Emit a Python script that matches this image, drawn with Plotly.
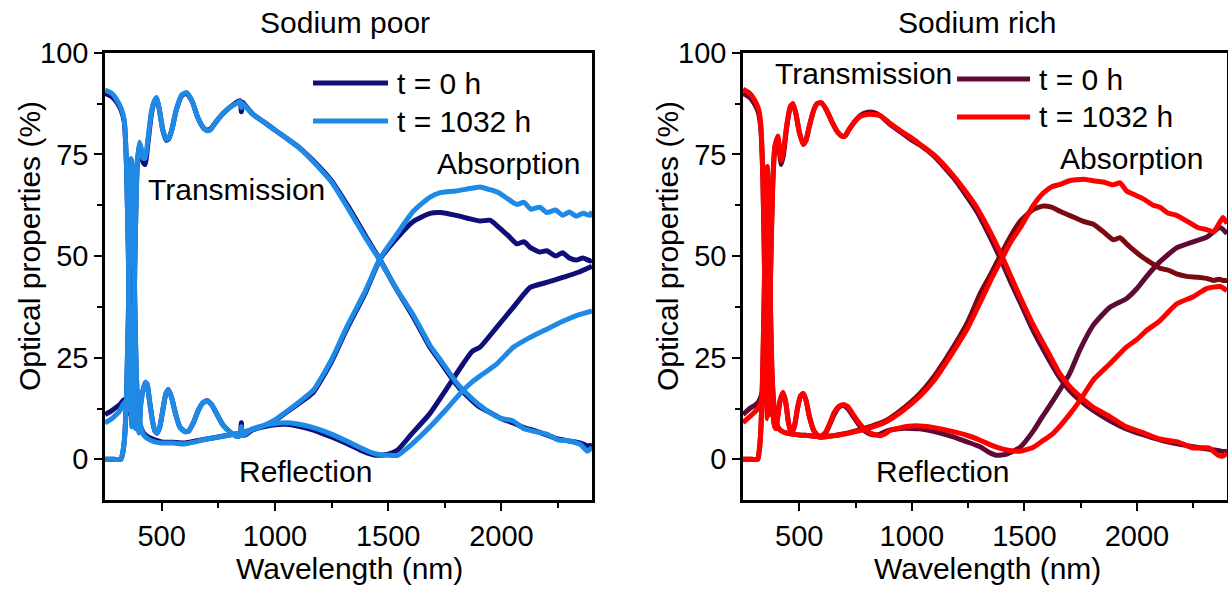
import plotly.graph_objects as go

# ---------------- data: Sodium poor ----------------
poor_T_nm = [250, 280, 300, 320, 335, 345, 355, 362, 368, 374, 382, 392, 402, 410, 418,
             427, 440, 455, 468, 478, 490, 505, 520, 530, 545, 565, 590, 611, 635, 660,
             685, 700, 715, 740, 770, 800, 830, 846, 852, 858, 870, 900, 950, 1000, 1050,
             1100, 1170, 1250, 1320, 1400, 1465, 1530, 1611, 1685, 1730, 1800, 1850, 1900, 1950, 2000,
             2050, 2100, 2150, 2200, 2250, 2300, 2350, 2380, 2400]
poor_T_0 = [90.0, 89.2, 88.0, 86.0, 83.0, 72.0, 45.0, 22.0, 10.0, 20.0, 50.0, 72.0, 77.5, 76.0, 73.0,
            72.5, 78.0, 85.0, 88.0, 88.8, 86.0, 81.0, 78.5, 78.7, 81.0, 86.0, 89.5, 90.0, 88.0, 84.0,
            81.5, 81.0, 81.2, 83.0, 85.0, 86.5, 87.8, 88.2, 85.5, 87.8, 87.0, 85.0, 83.0, 81.0, 79.0,
            77.0, 73.4, 68.5, 62.5, 55.0, 49.0, 42.5, 35.0, 27.5, 24.0, 18.5, 15.5, 13.0, 11.5, 10.0,
            9.0, 7.8, 7.0, 6.0, 5.0, 4.5, 4.0, 3.3, 3.5]
poor_T_1032 = [90.8, 90.0, 88.6, 86.5, 83.5, 72.0, 44.0, 20.0, 8.0, 19.0, 49.0, 72.0, 78.0, 76.5, 74.0,
               74.0, 79.0, 85.5, 88.2, 89.0, 86.0, 81.0, 78.7, 78.9, 81.0, 86.0, 89.7, 90.2, 88.0, 84.0,
               81.5, 80.8, 81.0, 83.0, 85.0, 86.5, 87.5, 88.0, 86.5, 87.5, 86.8, 85.0, 83.0, 81.0, 79.0,
               77.0, 73.2, 68.2, 62.0, 54.5, 48.8, 42.5, 35.5, 28.0, 24.5, 19.0, 16.0, 13.5, 11.5, 10.0,
               9.5, 7.5, 6.8, 6.2, 4.8, 4.5, 3.6, 2.0, 3.0]

poor_R_nm = [250, 280, 300, 316, 330, 345, 355, 362, 368, 374, 380, 386, 392, 400, 408,
             418, 428, 436, 445, 458, 470, 480, 492, 505, 518, 530, 545, 560, 580, 603,
             620, 640, 660, 680, 700, 720, 745, 770, 800, 825, 840, 848, 852, 856, 870,
             900, 950, 1000, 1050, 1100, 1170, 1250, 1317, 1380, 1430, 1460, 1500, 1542, 1600, 1685,
             1760, 1831, 1870, 1906, 1980, 2054, 2127, 2200, 2274, 2340, 2400]
poor_R_0 = [11.0, 12.0, 12.8, 13.5, 14.5, 15.0, 16.0, 11.0, 17.5, 13.0, 17.8, 8.0, 10.0, 7.0, 14.0,
            17.0, 18.8, 18.5, 15.0, 10.0, 7.0, 6.4, 8.0, 12.0, 16.0, 17.2, 15.0, 11.5, 8.0, 6.8,
            7.0, 9.0, 11.8, 13.8, 14.4, 13.5, 11.0, 8.5, 6.8, 5.8, 5.6, 6.5, 9.0, 6.0, 6.0,
            7.2, 8.0, 8.5, 8.6, 8.2, 7.2, 5.5, 3.9, 2.2, 1.2, 1.0, 1.3, 2.3, 6.0, 11.3,
            17.5, 23.5, 26.5, 27.6, 32.5, 37.5, 42.3, 43.5, 44.8, 46.0, 47.5]
poor_R_1032 = [9.0, 10.0, 11.0, 12.0, 13.5, 14.5, 16.5, 12.0, 18.0, 14.0, 17.0, 7.5, 9.5, 6.5, 13.5,
               17.0, 19.0, 18.5, 15.0, 10.0, 7.0, 6.5, 8.0, 12.0, 16.0, 17.2, 15.0, 11.5, 8.0, 6.8,
               7.0, 9.0, 11.8, 13.8, 14.4, 13.5, 11.0, 8.5, 6.8, 5.8, 5.6, 6.0, 8.0, 6.0, 6.2,
               7.5, 8.3, 8.8, 9.0, 8.7, 7.8, 6.2, 4.5, 2.8, 1.6, 1.2, 1.0, 1.0, 3.5, 8.0,
               12.5, 17.0, 19.0, 20.5, 23.5, 27.6, 30.0, 32.0, 34.0, 35.5, 36.5]

poor_A_nm = [250, 290, 320, 328, 336, 344, 352, 360, 366, 372, 378, 384, 390, 398, 408,
             420, 440, 470, 500, 550, 600, 650, 700, 750, 800, 850, 900, 950, 1000, 1050,
             1100, 1170, 1250, 1317, 1400, 1465, 1540, 1611, 1685, 1730, 1800, 1850, 1906, 1950, 1990,
             2030, 2068, 2100, 2130, 2170, 2200, 2240, 2270, 2300, 2330, 2360, 2392, 2400]
poor_A_0 = [0.0, 0.0, 0.0, 1.5, 5.0, 14.0, 32.0, 55.0, 72.0, 70.0, 50.0, 30.0, 18.0, 11.0, 8.0,
            6.5, 5.5, 4.8, 4.3, 4.2, 4.0, 4.5, 5.0, 5.5, 6.0, 6.5, 7.3, 8.2, 9.5, 11.5,
            13.5, 16.5, 24.0, 32.0, 41.0, 49.3, 54.5, 58.5, 60.5, 60.7, 60.0, 59.3, 58.6, 58.8, 57.0,
            55.0, 53.0, 53.5, 52.0, 51.0, 51.3, 50.0, 50.8, 49.5, 49.0, 49.5, 48.8, 49.0]
poor_A_1032 = [0.0, 0.0, 0.0, 1.5, 5.0, 14.0, 33.0, 57.0, 74.0, 72.0, 52.0, 31.0, 19.0, 11.0, 8.0,
               6.0, 5.0, 4.3, 4.0, 4.0, 3.8, 4.3, 5.0, 5.5, 6.0, 6.5, 7.3, 8.3, 9.7, 11.7,
               13.8, 17.0, 24.5, 32.5, 41.5, 49.5, 55.5, 61.0, 64.5, 65.6, 66.0, 66.5, 67.0, 66.3, 65.5,
               64.0, 62.7, 63.2, 61.5, 62.0, 60.7, 61.3, 60.0, 60.8, 59.8, 60.5, 60.0, 61.0]

# ---------------- data: Sodium rich ----------------
rich_T_nm = [250, 280, 300, 317, 328, 338, 345, 352, 358, 364, 372, 382, 392, 405, 413,
             420, 430, 445, 460, 472, 485, 500, 517, 530, 545, 565, 580, 598, 620, 645,
             670, 690, 703, 720, 745, 770, 800, 830, 860, 900, 950, 1000, 1036, 1100, 1184,
             1240, 1288, 1340, 1392, 1440, 1482, 1540, 1599, 1658, 1700, 1747, 1806, 1880, 1953, 2030,
             2101, 2180, 2250, 2320, 2360, 2382, 2400]
rich_T_0 = [90.0, 89.0, 87.5, 85.5, 82.0, 70.0, 50.0, 25.0, 12.0, 18.0, 45.0, 68.0, 77.0, 79.0, 75.0,
            72.5, 75.0, 82.0, 86.5, 87.2, 85.0, 80.5, 77.5, 78.5, 82.0, 86.0, 87.5, 87.7, 86.0, 83.0,
            80.5, 79.5, 79.5, 81.0, 83.0, 84.5, 85.3, 85.3, 84.5, 82.5, 80.5, 78.5, 77.3, 74.5, 69.3,
            65.0, 61.0, 55.5, 49.5, 43.5, 38.5, 31.5, 25.5, 20.0, 17.0, 14.5, 12.0, 9.5, 7.5, 6.0,
            4.8, 3.8, 3.1, 2.5, 2.2, 1.9, 2.0]
rich_T_1032 = [91.0, 90.0, 88.5, 86.5, 83.0, 70.0, 48.0, 22.0, 10.0, 17.0, 44.0, 67.0, 77.0, 79.5, 76.0,
               73.5, 76.0, 82.5, 86.8, 87.5, 85.0, 80.5, 77.5, 78.5, 82.0, 86.0, 87.5, 87.7, 86.0, 83.0,
               80.5, 79.5, 79.5, 81.0, 83.0, 84.3, 84.8, 84.8, 84.5, 82.8, 80.8, 79.0, 77.5, 74.8, 69.8,
               65.8, 62.0, 56.8, 51.0, 45.0, 39.8, 33.0, 27.0, 21.0, 18.0, 15.5, 12.8, 10.5, 8.0, 6.5,
               5.0, 4.3, 2.8, 2.8, 1.0, 0.8, 1.5]

rich_R_nm = [250, 280, 300, 317, 330, 342, 350, 356, 362, 368, 374, 380, 388, 396, 405,
             415, 428, 440, 452, 465, 478, 492, 505, 517, 530, 545, 565, 585, 598, 615,
             635, 655, 675, 695, 715, 740, 765, 790, 815, 844, 860, 880, 900, 950, 1000,
             1036, 1100, 1184, 1250, 1303, 1340, 1376, 1421, 1482, 1540, 1580, 1628, 1700, 1747, 1806,
             1880, 1953, 2000, 2043, 2100, 2176, 2250, 2309, 2369, 2400]
rich_R_0 = [11.0, 12.5, 13.2, 14.0, 15.5, 18.0, 20.0, 18.0, 14.0, 19.0, 12.0, 16.0, 9.0, 8.0, 11.0,
            14.5, 16.2, 14.0, 9.0, 6.4, 8.0, 12.5, 15.5, 16.2, 14.5, 10.5, 7.0, 5.6, 5.5, 6.2,
            8.5, 11.0, 12.8, 13.3, 12.5, 10.5, 8.5, 7.0, 6.2, 6.0, 6.2, 6.8, 7.2, 7.6, 7.6,
            7.5, 6.8, 5.5, 4.2, 3.1, 1.8, 1.0, 1.3, 3.0, 7.0, 10.5, 14.5, 21.0, 27.0, 33.0,
            37.4, 39.5, 42.0, 45.0, 48.5, 52.0, 53.5, 54.6, 57.0, 55.5]
rich_R_1032 = [9.0, 10.5, 11.5, 12.5, 14.0, 17.0, 19.0, 17.0, 13.0, 18.0, 11.0, 15.0, 8.5, 7.5, 10.5,
               14.5, 16.5, 14.0, 9.0, 6.4, 8.0, 12.5, 15.5, 16.2, 14.5, 10.5, 7.0, 5.8, 5.8, 6.5,
               8.8, 11.5, 13.0, 13.5, 13.0, 11.0, 9.0, 7.5, 6.5, 6.0, 5.8, 6.2, 7.0, 7.8, 8.2,
               8.2, 7.8, 6.8, 5.8, 4.7, 3.8, 3.0, 2.3, 2.0, 3.0, 4.5, 6.4, 11.0, 14.5, 19.5,
               23.5, 27.6, 29.5, 31.7, 34.0, 38.2, 40.0, 42.0, 42.5, 41.5]

rich_A_nm = [250, 290, 315, 322, 330, 338, 345, 352, 358, 364, 370, 378, 386, 395, 405,
             420, 440, 470, 500, 550, 600, 650, 700, 750, 800, 850, 888, 950, 1036, 1100,
             1184, 1250, 1303, 1350, 1392, 1440, 1482, 1540, 1584, 1620, 1658, 1700, 1762, 1806, 1850,
             1895, 1925, 1954, 1984, 2030, 2072, 2102, 2140, 2176, 2221, 2270, 2309, 2340, 2365, 2382,
             2400]
rich_A_0 = [0.0, 0.0, 0.0, 2.0, 8.0, 22.0, 42.0, 60.0, 70.0, 62.0, 42.0, 22.0, 14.0, 10.0, 8.0,
            7.0, 6.5, 6.2, 6.0, 5.8, 5.5, 5.8, 6.3, 7.0, 7.8, 8.7, 9.6, 12.0, 16.2, 20.5,
            27.6, 34.0, 40.7, 45.5, 50.0, 55.0, 58.6, 61.5, 62.3, 62.0, 61.0, 60.0, 58.5, 57.8, 56.0,
            54.0, 54.5, 53.0, 51.5, 49.5, 48.0, 47.0, 46.5, 45.6, 45.0, 44.8, 44.5, 44.0, 44.3, 44.0,
            44.0]
rich_A_1032 = [0.0, 0.0, 0.0, 2.0, 8.0, 23.0, 44.0, 62.0, 72.0, 64.0, 44.0, 23.0, 14.0, 10.0, 8.0,
               7.0, 6.5, 6.2, 6.0, 5.8, 5.5, 5.8, 6.2, 6.8, 7.5, 8.4, 9.3, 11.5, 15.5, 19.5,
               26.5, 32.5, 38.5, 44.0, 48.5, 53.5, 57.0, 62.5, 65.5, 67.0, 67.6, 68.5, 68.9, 68.5, 68.2,
               67.5, 68.0, 66.0, 65.2, 64.0, 62.5, 62.0, 60.5, 60.0, 58.6, 57.0, 56.5, 56.0, 58.0, 59.5,
               58.0]

x_ticks = [500, 1000, 1500, 2000]
y_ticks = [0, 25, 50, 75, 100]
legend_labels = ["t = 0 h", "t = 1032 h"]
panel_titles = ["Sodium poor", "Sodium rich"]

# ---------------- styling ----------------
W, H = 1228, 589
FONT = "Arial, Liberation Sans, sans-serif"
C_POOR0, C_POOR1 = "#0f0f78", "#1e8ae6"
C_RICH0, C_RICH0A, C_RICH1 = "#5e0a36", "#7a0a12", "#ff0000"
LW = 5

fig = go.Figure()

def add(x, y, color, xa, ya):
    fig.add_trace(go.Scatter(x=x, y=y, mode="lines", xaxis=xa, yaxis=ya,
                             line=dict(color=color, width=LW, shape="spline", smoothing=0.5),
                             showlegend=False, hoverinfo="skip"))

# Sodium poor
for nm, y0 in [(poor_T_nm, poor_T_0), (poor_R_nm, poor_R_0), (poor_A_nm, poor_A_0)]:
    add(nm, y0, C_POOR0, "x", "y")
for nm, y1 in [(poor_T_nm, poor_T_1032), (poor_R_nm, poor_R_1032), (poor_A_nm, poor_A_1032)]:
    add(nm, y1, C_POOR1, "x", "y")
# Sodium rich
add(rich_T_nm, rich_T_0, C_RICH0, "x2", "y2")
add(rich_R_nm, rich_R_0, C_RICH0, "x2", "y2")
add(rich_A_nm, rich_A_0, C_RICH0A, "x2", "y2")
add(rich_T_nm, rich_T_1032, C_RICH1, "x2", "y2")
add(rich_R_nm, rich_R_1032, C_RICH1, "x2", "y2")
add(rich_A_nm, rich_A_1032, C_RICH1, "x2", "y2")

def px_x(p):
    return p / W

def px_y(p):
    return 1 - p / H

ydom = [px_y(500), px_y(52.7)]
axis_common = dict(showgrid=False, zeroline=False, showline=True, linecolor="black",
                   linewidth=2.5, mirror=True, ticks="outside", ticklen=8, tickwidth=2,
                   tickcolor="black", tickfont=dict(family=FONT, size=29, color="black"),
                   automargin=False)
xaxis_common = dict(axis_common, range=[250, 2400], tickvals=x_ticks,
                    minor=dict(ticks="outside", ticklen=5, tickwidth=2, tickcolor="black",
                               tickvals=[750, 1250, 1750, 2250]))
yaxis_common = dict(axis_common, range=[-10, 100], tickvals=y_ticks,
                    minor=dict(ticks="outside", ticklen=5, tickwidth=2, tickcolor="black",
                               tickvals=[12.5, 37.5, 62.5, 87.5]))

fig.update_layout(
    width=W, height=H, margin=dict(l=0, r=0, t=0, b=0),
    paper_bgcolor="white", plot_bgcolor="white",
    xaxis=dict(xaxis_common, domain=[px_x(105), px_x(592)], anchor="y"),
    yaxis=dict(yaxis_common, domain=ydom, anchor="x"),
    xaxis2=dict(xaxis_common, domain=[px_x(743), px_x(1227)], anchor="y2"),
    yaxis2=dict(yaxis_common, domain=ydom, anchor="x2"),
    showlegend=False,
)

annots = []
def text(x, y, s, size=30, angle=0, xanchor="center"):
    annots.append(dict(x=px_x(x), y=px_y(y), xref="paper", yref="paper", text=s,
                       showarrow=False, xanchor=xanchor, yanchor="middle", textangle=angle,
                       font=dict(family=FONT, size=size, color="black")))

# titles
text(345, 22, panel_titles[0])
text(977, 22, panel_titles[1])
# axis titles
text(349, 568, "Wavelength (nm)")
text(987, 568, "Wavelength (nm)")
text(30, 246, "Optical properties (%)", angle=-90)
text(668, 246, "Optical properties (%)", angle=-90)
# curve labels
text(236, 189, "Transmission")
text(508, 164, "Absorption")
text(305, 471, "Reflection")
text(863, 74, "Transmission")
text(1131, 158, "Absorption")
text(942, 471, "Reflection")
# legends
shapes = []
for (x0, x1, ytop, col0, col1, tx) in [(313, 388, 83, C_POOR0, C_POOR1, 395),
                                       (957, 1030, 79, C_RICH0, C_RICH1, 1037)]:
    for i, (col, lab) in enumerate([(col0, legend_labels[0]), (col1, legend_labels[1])]):
        yy = ytop + i * 38
        shapes.append(dict(type="line", xref="paper", yref="paper",
                           x0=px_x(x0), x1=px_x(x1), y0=px_y(yy), y1=px_y(yy),
                           line=dict(color=col, width=5)))
        text(tx, yy, lab, xanchor="left")

fig.update_layout(annotations=annots, shapes=shapes)
fig.write_html("out.html")
